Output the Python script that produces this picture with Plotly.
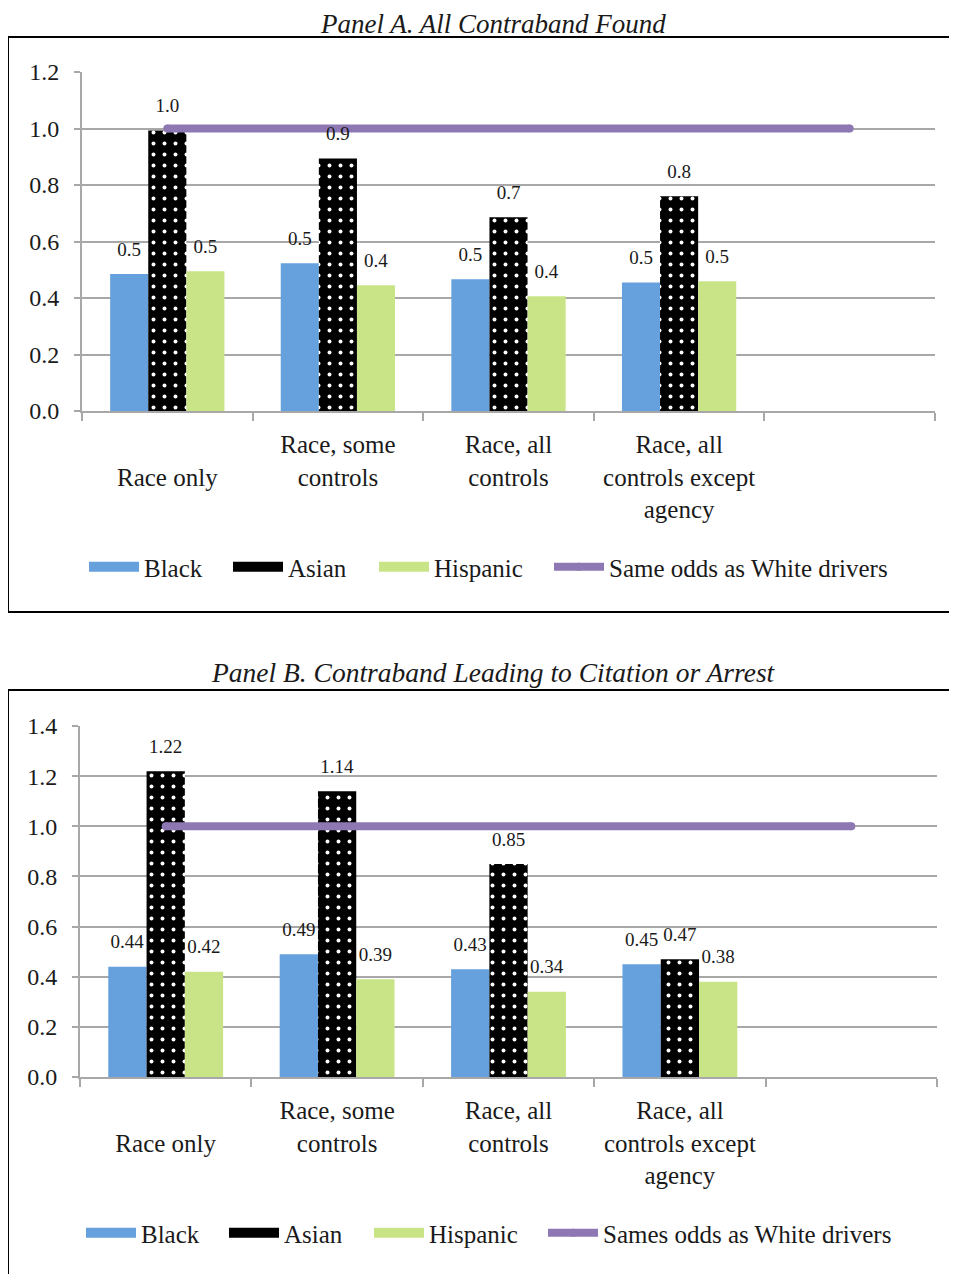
import plotly.graph_objects as go

# ---------------- data ----------------
cat_keys = ["Race only", "Race, some controls", "Race, all controls",
            "Race, all controls except agency", "blank"]
cat_labels = ["<br>Race only", "Race, some<br>controls", "Race, all<br>controls",
              "Race, all<br>controls except<br>agency", ""]
bar_cats = cat_keys[:4]
series_names = ["Black", "Asian", "Hispanic"]

a_black = [0.485, 0.523, 0.466, 0.455]
a_asian = [0.993, 0.894, 0.686, 0.760]
a_hisp = [0.495, 0.445, 0.406, 0.459]

b_black = [0.44, 0.49, 0.43, 0.45]
b_asian = [1.22, 1.14, 0.85, 0.47]
b_hisp = [0.42, 0.39, 0.34, 0.38]

ref_x = [cat_keys[0], cat_keys[4]]
ref_y = [1.0, 1.0]
a_line_name = "Same odds as White drivers"
b_line_name = "Sames odds as White drivers"

a_yticks = [0.0, 0.2, 0.4, 0.6, 0.8, 1.0, 1.2]
b_yticks = [0.0, 0.2, 0.4, 0.6, 0.8, 1.0, 1.2, 1.4]

# ---------------- style ----------------
FONT = "Liberation Serif"
TXT = "#1a1a1a"
BLUE = "#66A1DD"
GREEN = "#C9E487"
PURPLE = "#8E78B4"
GRID = "#A8A8A8"
COLORS = [BLUE, "black", GREEN]
W, H = 957, 1274
OFF = 8  # page body margin offset


def px(x):
    return (x - OFF) / W


def py(y):
    return 1 - (y - OFF) / H


fig = go.Figure()


def add_panel(xa, ya, xo, yo, vals, fmt, pad, legends, line_name):
    for i, (name, v) in enumerate(zip(series_names, vals)):
        marker = dict(color=COLORS[i], line=dict(width=0))
        if name == "Asian":
            marker["pattern"] = dict(shape=".", fgcolor="white", bgcolor="black",
                                     size=11, solidity=0.1, fillmode="replace")
        fig.add_trace(go.Bar(x=bar_cats, y=v, name=name, marker=marker,
                             offsetgroup=name, showlegend=False,
                             xaxis=xa, yaxis=ya))
        # transparent spacer bar (on an overlaid axis pair) carrying the value label
        fig.add_trace(go.Bar(x=bar_cats, y=[pad] * len(v), base=v,
                             text=[format(t, fmt) for t in v],
                             textposition="outside", cliponaxis=False,
                             textfont=dict(family=FONT, size=19, color=TXT),
                             marker=dict(color="rgba(0,0,0,0)", line=dict(width=0)),
                             offsetgroup=name, showlegend=False, hoverinfo="skip",
                             xaxis=xo, yaxis=yo))
        # legend swatch
        fig.add_trace(go.Scatter(x=[None], y=[None], mode="lines", name=name,
                                 line=dict(color=COLORS[i], width=14),
                                 legend=legends[i], xaxis=xa, yaxis=ya))
    fig.add_trace(go.Scatter(x=ref_x, y=ref_y, name=line_name, mode="lines+markers",
                             line=dict(color=PURPLE, width=8),
                             marker=dict(color=PURPLE, size=8),
                             xaxis=xa, yaxis=ya, legend=legends[3]))


add_panel("x", "y", "x3", "y3", [a_black, a_asian, a_hisp], ".1f", 0.04,
          ["legend", "legend2", "legend3", "legend4"], a_line_name)
add_panel("x2", "y2", "x4", "y4", [b_black, b_asian, b_hisp], ".2f", 0.045,
          ["legend5", "legend6", "legend7", "legend8"], b_line_name)

xaxis_common = dict(type="category", categoryorder="array", categoryarray=cat_keys,
                    tickmode="array", tickvals=cat_keys, ticktext=cat_labels,
                    range=[-0.5, 4.5], tickson="boundaries", ticks="outside",
                    ticklen=8, tickcolor=GRID, tickwidth=2,
                    showline=True, linecolor=GRID, linewidth=2,
                    showgrid=False, zeroline=False, automargin=False,
                    tickfont=dict(family=FONT, size=25, color=TXT),
                    ticklabelstandoff=10)
yaxis_common = dict(showline=True, linecolor=GRID, linewidth=2,
                    ticks="outside", ticklen=6, tickcolor=GRID, tickwidth=2,
                    showgrid=True, gridcolor=GRID, gridwidth=2,
                    zeroline=False, tickformat=".1f", automargin=False,
                    tickfont=dict(family=FONT, size=24, color=TXT),
                    ticklabelstandoff=10)
overlay_x = dict(type="category", categoryorder="array", categoryarray=cat_keys,
                 range=[-0.5, 4.5], visible=False, showgrid=False, automargin=False)
overlay_y = dict(visible=False, showgrid=False, zeroline=False, automargin=False)

leg_font = dict(family=FONT, size=25, color=TXT)
legend_x = {"legend": 89, "legend2": 233, "legend3": 379, "legend4": 554,
            "legend5": 86, "legend6": 229, "legend7": 374, "legend8": 548}
legend_y = {"legend": 567, "legend2": 567, "legend3": 567, "legend4": 567,
            "legend5": 1233, "legend6": 1233, "legend7": 1233, "legend8": 1233}
legends = {k: dict(orientation="h", x=px(legend_x[k] - 5), y=py(legend_y[k]),
                   xanchor="left", yanchor="middle", font=leg_font,
                   itemwidth=50, bgcolor="rgba(0,0,0,0)", borderwidth=0)
           for k in legend_x}

fig.update_layout(
    width=W, height=H,
    margin=dict(l=0, r=0, t=0, b=0, autoexpand=False),
    paper_bgcolor="white", plot_bgcolor="white",
    barmode="group", bargap=0.33, bargroupgap=0,
    font=dict(family=FONT, color=TXT),
    xaxis=dict(domain=[px(82), px(935)], anchor="y", **xaxis_common),
    yaxis=dict(domain=[py(411), py(72)], range=[0, 1.2], anchor="x",
               tickvals=a_yticks, **yaxis_common),
    xaxis2=dict(domain=[px(80), px(937)], anchor="y2", **xaxis_common),
    yaxis2=dict(domain=[py(1077), py(726)], range=[0, 1.4], anchor="x2",
                tickvals=b_yticks, **yaxis_common),
    xaxis3=dict(overlaying="x", anchor="y3", **overlay_x),
    yaxis3=dict(overlaying="y", anchor="x3", range=[0, 1.2], **overlay_y),
    xaxis4=dict(overlaying="x2", anchor="y4", **overlay_x),
    yaxis4=dict(overlaying="y2", anchor="x4", range=[0, 1.4], **overlay_y),
    showlegend=True,
    shapes=[
        dict(type="rect", xref="paper", yref="paper",
             x0=px(8), x1=1.01, y0=py(612), y1=py(37),
             line=dict(color="black", width=2), fillcolor="rgba(0,0,0,0)", layer="below"),
        dict(type="rect", xref="paper", yref="paper",
             x0=px(8), x1=1.01, y0=-0.02, y1=py(690),
             line=dict(color="black", width=2), fillcolor="rgba(0,0,0,0)", layer="below"),
    ],
    annotations=[
        dict(text="<i>Panel A. All Contraband Found</i>", xref="paper", yref="paper",
             x=px(493), y=1.0, showarrow=False, xanchor="center", yanchor="top",
             borderpad=0, font=dict(family=FONT, size=27, color=TXT)),
        dict(text="<i>Panel B. Contraband Leading to Citation or Arrest</i>", xref="paper",
             yref="paper", x=px(493), y=py(672), showarrow=False, xanchor="center",
             yanchor="middle", font=dict(family=FONT, size=27.5, color=TXT)),
    ],
    **legends,
)

fig.write_html("out.html")
